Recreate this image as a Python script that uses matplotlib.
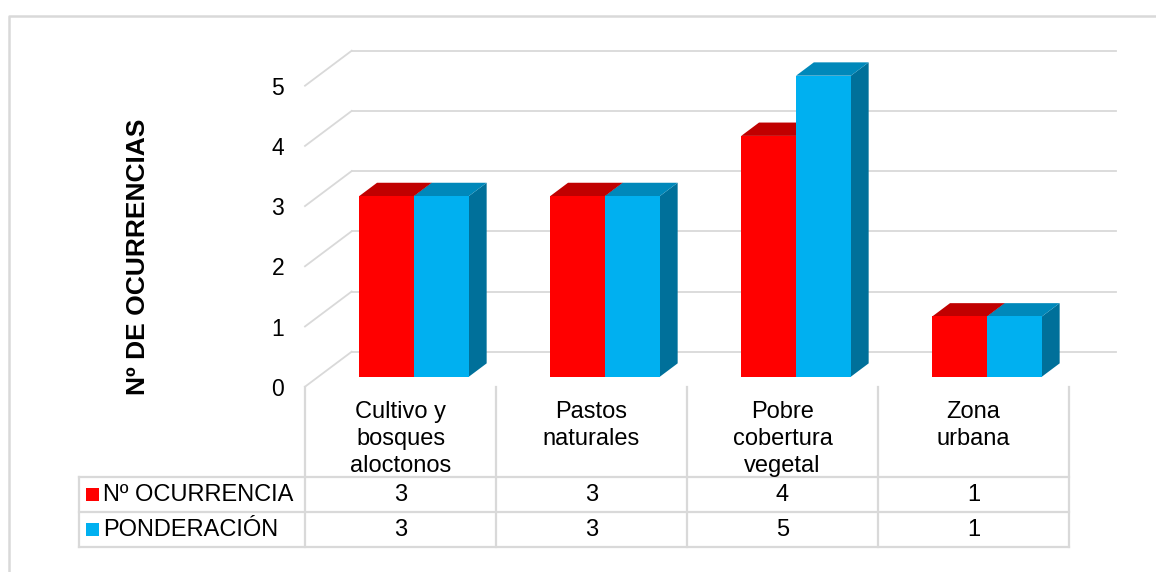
import matplotlib as mpl
mpl.use('Agg')
import matplotlib.pyplot as plt
from matplotlib.patches import Polygon, Rectangle
import matplotlib.transforms as mtransforms

categorias = ['Cultivo y\nbosques\naloctonos', 'Pastos\nnaturales',
              'Pobre\ncobertura\nvegetal', 'Zona\nurbana']
ocurrencia = [3, 3, 4, 1]
ponderacion = [3, 3, 5, 1]
series = ['Nº OCURRENCIA', 'PONDERACIÓN']
ticks_y = [0, 1, 2, 3, 4, 5]

# colores: frente, tapa, lateral
rojo = ('#FF0000', '#C00000', '#A00000')
azul = ('#00B0F0', '#0088BA', '#00709A')
gris = '#D9D9D9'

plt.rcParams['font.family'] = ['Liberation Sans', 'DejaVu Sans']

W, H = 1156, 572
fig = plt.figure(figsize=(W / 100, H / 100), dpi=100)

# capa en pixeles para el marco y la tabla de datos
px = fig.add_axes([0, 0, 1, 1])
px.set_xlim(0, W)
px.set_ylim(H, 0)
px.axis('off')

# plano frontal del grafico
x0p, x1p, y0p, y5p = 305, 1069, 386.7, 85.7
ax = fig.add_axes([x0p / W, 1 - y0p / H, (x1p - x0p) / W, (y0p - y5p) / H])
n = len(categorias)
ax.set_xlim(0, n)
ax.set_ylim(0, 5)
ax.patch.set_visible(False)
for s in ax.spines.values():
    s.set_visible(False)
ax.set_xticks([])
ax.set_yticks(ticks_y)
ax.tick_params(axis='y', length=0, pad=15, labelsize=16.5)
for lab in ax.get_yticklabels():
    lab.set_y(-0.02)
ax.set_ylabel('Nº DE OCURRENCIAS', fontsize=19, fontweight='bold')
ax.yaxis.set_label_coords(-0.203, 0.43)

# profundidad (perspectiva oblicua) en unidades de datos
DX = 46.7 / 191.0
DY = 35.0 / 60.2

# paredes: lineas de division
for v in ticks_y:
    ax.plot([0, DX], [v, v + DY], color=gris, lw=1.3, clip_on=False, zorder=1)
    ax.plot([DX, n + DX], [v + DY, v + DY], color=gris, lw=1.3, clip_on=False, zorder=1)

# barras 3D
ancho = 0.287
margen = 0.214
f0, f1 = 0.286, 0.667
for i in range(n):
    for j, (vals, col) in enumerate([(ocurrencia, rojo), (ponderacion, azul)]):
        v = vals[i]
        xa = i + margen + j * ancho
        xb = xa + ancho
        lado = [(xb + f0 * DX, f0 * DY), (xb + f1 * DX, f1 * DY),
                (xb + f1 * DX, v + f1 * DY), (xb + f0 * DX, v + f0 * DY)]
        tapa = [(xa + f0 * DX, v + f0 * DY), (xb + f0 * DX, v + f0 * DY),
                (xb + f1 * DX, v + f1 * DY), (xa + f1 * DX, v + f1 * DY)]
        ax.add_patch(Polygon(lado, closed=True, fc=col[2], ec='none', clip_on=False, zorder=3))
        ax.add_patch(Polygon(tapa, closed=True, fc=col[1], ec='none', clip_on=False, zorder=3))
        ax.add_patch(Rectangle((xa + f0 * DX, f0 * DY), ancho, v, fc=col[0], ec='none',
                               clip_on=False, zorder=3))

# tabla de datos: x en categorias, y en pixeles
tt = mtransforms.blended_transform_factory(ax.transData, px.transData)
xl = (79 - x0p) / ((x1p - x0p) / n)
y_top, y_r1, y_r2, y_bot = 386.7, 476.7, 512, 547
kw = dict(color=gris, lw=1.6, transform=tt, clip_on=False)
for k in range(n + 1):
    px.plot([k, k], [y_top, y_bot], **kw)
px.plot([xl, xl], [y_r1, y_bot], **kw)
for yy in (y_r1, y_r2, y_bot):
    px.plot([xl, n], [yy, yy], **kw)

fs = 17
for i, cat in enumerate(categorias):
    px.text(i + 0.5, 401, cat, transform=tt, ha='center', va='top',
            fontsize=fs, linespacing=1.29)
    px.text(i + 0.5, (y_r1 + y_r2) / 2 + 1, str(ocurrencia[i]), transform=tt,
            ha='center', va='center', fontsize=fs)
    px.text(i + 0.5, (y_r2 + y_bot) / 2 + 1, str(ponderacion[i]), transform=tt,
            ha='center', va='center', fontsize=fs)

# claves de la leyenda en la tabla
for yc, nombre, col in [((y_r1 + y_r2) / 2, series[0], rojo),
                        ((y_r2 + y_bot) / 2, series[1], azul)]:
    px.add_patch(Rectangle((86, yc - 6.3), 12.5, 12.5, fc=col[0], ec='none'))
    px.text(103, yc + 1, nombre, ha='left', va='center', fontsize=fs)

# marco exterior
px.plot([9, 9, W + 5], [H + 5, 16, 16], color=gris, lw=1.8, clip_on=False)

fig.savefig('out.png', dpi=100)
